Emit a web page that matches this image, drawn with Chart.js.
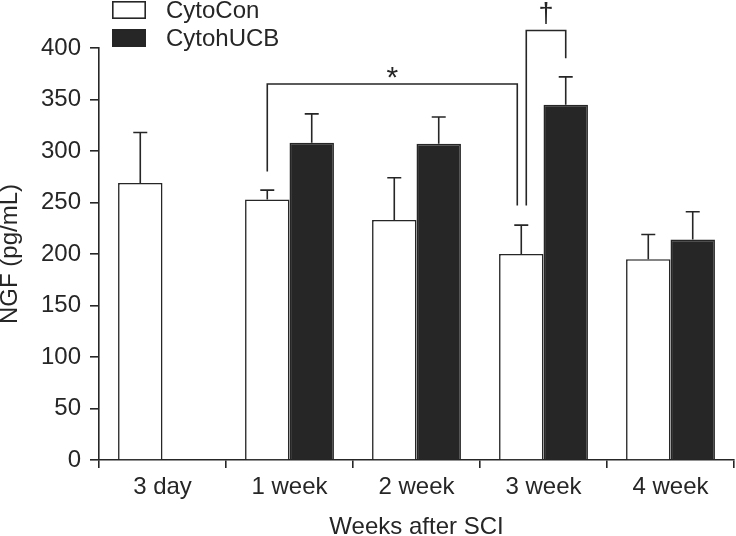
<!DOCTYPE html>
<html>
<head>
<meta charset="utf-8">
<script src="https://cdn.jsdelivr.net/npm/chart.js@4.4.1/dist/chart.umd.min.js"></script>
<style>
html,body{margin:0;padding:0;background:#ffffff;}
#wrap{width:736px;height:536px;}
canvas{display:block;}
</style>
</head>
<body>
<div id="wrap"><canvas id="c" width="736" height="536"></canvas></div>
<script>
// ---- data ----
const categories = ['3 day', '1 week', '2 week', '3 week', '4 week'];
const seriesNames = ['CytoCon', 'CytohUCB'];
const cytoConValues = [269, 253, 233, 200, 195];
const cytoConErrors = [49, 9, 41, 28, 24];
const cytohUCBValues = [null, 308, 307, 345, 214];
const cytohUCBErrors = [null, 28, 26, 27, 27];
const yTickValues = [0, 50, 100, 150, 200, 250, 300, 350, 400];
const xAxisTitle = 'Weeks after SCI';
const yAxisTitle = 'NGF (pg/mL)';
// significance brackets: category index + series index of each end, heights in pg/mL
const bracketMarks = ['*', '\u2020'];
const bracketFrom = [[1, 0], [3, 0]];
const bracketTo = [[3, 0], [3, 1]];
const bracketTop = [365, 417];
const bracketLeftEnd = [280, 247];
const bracketRightEnd = [247, 390];

// ---- style ----
const INK = '#262626';
const FONT = "'Liberation Sans', Arial, Helvetica, sans-serif";
const bracketDx = [[0, -4], [5, 0]];
const markFont = [30, 27];

const overlay = {
  id: 'overlay',
  afterDatasetsDraw(chart) {
    const ctx = chart.ctx;
    const ys = chart.scales.y;
    ctx.save();
    ctx.strokeStyle = INK;
    ctx.fillStyle = INK;
    ctx.lineWidth = 1.6;
    ctx.lineCap = 'butt';
    // error bars (upper only)
    const sets = [[cytoConValues, cytoConErrors], [cytohUCBValues, cytohUCBErrors]];
    sets.forEach(([vals, errs], di) => {
      const meta = chart.getDatasetMeta(di);
      vals.forEach((v, i) => {
        if (v == null || errs[i] == null) return;
        const bar = meta.data[i];
        const x = bar.x;
        const y0 = ys.getPixelForValue(v);
        const y1 = ys.getPixelForValue(v + errs[i]);
        ctx.beginPath();
        ctx.moveTo(x, y0); ctx.lineTo(x, y1);
        ctx.moveTo(x - 7, y1); ctx.lineTo(x + 7, y1);
        ctx.stroke();
      });
    });
    // brackets
    bracketMarks.forEach((mark, k) => {
      const a = chart.getDatasetMeta(bracketFrom[k][1]).data[bracketFrom[k][0]];
      const b = chart.getDatasetMeta(bracketTo[k][1]).data[bracketTo[k][0]];
      const xa = a.x + bracketDx[k][0];
      const xb = b.x + bracketDx[k][1];
      const yt = ys.getPixelForValue(bracketTop[k]);
      const yl = ys.getPixelForValue(bracketLeftEnd[k]);
      const yr = ys.getPixelForValue(bracketRightEnd[k]);
      ctx.beginPath();
      ctx.moveTo(xa, yl); ctx.lineTo(xa, yt); ctx.lineTo(xb, yt); ctx.lineTo(xb, yr);
      ctx.stroke();
      ctx.font = markFont[k] + 'px ' + FONT;
      ctx.textAlign = 'center';
      ctx.textBaseline = 'alphabetic';
      const m = ctx.measureText(mark);
      const baseline = yt - 6 - m.actualBoundingBoxDescent;
      ctx.fillText(mark, (xa + xb) / 2, baseline);
    });
    // legend
    ctx.font = '24px ' + FONT;
    ctx.textAlign = 'left';
    ctx.textBaseline = 'middle';
    chart.data.datasets.forEach((ds, i) => {
      const by = 1 + 28 * i;
      ctx.fillStyle = ds.backgroundColor;
      ctx.fillRect(112, by, 34, 18);
      ctx.lineWidth = 1.6;
      ctx.strokeStyle = INK;
      ctx.strokeRect(112.8, by + 0.8, 32.4, 16.4);
      ctx.fillStyle = INK;
      ctx.fillText(ds.label, 166, 11 + 28 * i);
    });
    ctx.restore();
  }
};

new Chart(document.getElementById('c'), {
  type: 'bar',
  data: {
    labels: categories,
    datasets: [
      { label: seriesNames[0], data: cytoConValues, backgroundColor: '#ffffff', borderColor: INK, borderWidth: 1.6 },
      { label: seriesNames[1], data: cytohUCBValues, backgroundColor: INK, borderColor: INK, borderWidth: 1.6 }
    ]
  },
  options: {
    responsive: false,
    devicePixelRatio: 1,
    animation: false,
    categoryPercentage: 0.7,
    barPercentage: 1.0,
    layout: { padding: { top: 48, right: 2, left: 0, bottom: 0 } },
    plugins: { legend: { display: false }, tooltip: { enabled: false } },
    scales: {
      x: {
        offset: true,
        grid: { offset: true, drawOnChartArea: false, drawTicks: true, tickLength: 8, color: INK, tickColor: INK, lineWidth: 1.6 },
        border: { display: true, color: INK, width: 1.6 },
        ticks: { color: INK, font: { family: FONT, size: 24 }, padding: 5, maxRotation: 0 },
        title: { display: true, text: xAxisTitle, color: INK, font: { family: FONT, size: 24, lineHeight: 0.75 }, padding: { top: 0, bottom: 0 } },
        afterFit: (s) => { s.height = 76; }
      },
      y: {
        min: 0, max: 400,
        afterBuildTicks: (s) => { s.ticks = yTickValues.map(v => ({ value: v })); },
        grid: { drawOnChartArea: false, drawTicks: true, tickLength: 9, color: INK, tickColor: INK, lineWidth: 1.6 },
        border: { display: true, color: INK, width: 1.6 },
        ticks: { color: INK, font: { family: FONT, size: 24 }, padding: 9 },
        title: { display: true, text: yAxisTitle, color: INK, font: { family: FONT, size: 24, lineHeight: 0.84 }, padding: { top: 0, bottom: 0 } },
        afterFit: (s) => { s.width = 99; }
      }
    }
  },
  plugins: [overlay]
});
</script>
</body>
</html>
